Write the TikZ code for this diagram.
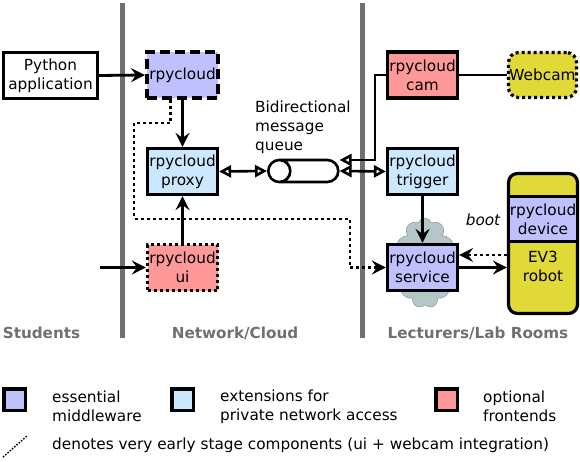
\documentclass[tikz,border=0pt]{standalone}
\usepackage{fontspec}
\setmainfont{DejaVu Sans}
\usetikzlibrary{positioning,calc,arrows.meta,shapes.geometric,shapes.symbols}
\pgfdeclarelayer{background}
\pgfsetlayers{background,main}
\definecolor{essentialblue}{RGB}{192,192,255}
\definecolor{extensionblue}{RGB}{204,232,255}
\definecolor{optionalred}{RGB}{255,153,153}
\definecolor{robotyellow}{RGB}{225,217,56}
\definecolor{cloudgrey}{RGB}{180,198,200}
\definecolor{zonegrey}{RGB}{112,112,112}
\tikzstyle{element} = [rectangle, draw=black, line width=3.2pt, minimum width=70pt, minimum height=46pt, inner sep=1pt, align=center]
\tikzstyle{early} = [dash pattern=on 3pt off 3pt]
\tikzstyle{arrow} = [line width=2.8pt, -{Stealth[length=14pt,width=14pt,inset=5pt]}]
\tikzstyle{queuearrow} = [line width=2.6pt, {Triangle[open,length=12pt,width=12pt]}-{Triangle[open,length=12pt,width=12pt]}]
\tikzstyle{zone} = [line width=5pt, draw=zonegrey]
\tikzstyle{zonelabel} = [font=\fontsize{15.2}{19}\selectfont\bfseries, text=zonegrey]
\tikzstyle{legendbox} = [rectangle, draw=black, line width=3.5pt, minimum width=21.5pt, minimum height=21.5pt, inner sep=0pt]
\tikzstyle{legendtext} = [anchor=west, inner sep=0pt, align=left]

\begin{document}
\begin{tikzpicture}[x=1pt, y=-1pt, font=\fontsize{15.3}{19}\selectfont]
        \useasboundingbox (0,0) rectangle (580,462);
        % Zones ------------------------------------------------------------------------------------
        \draw[zone] (122.5,3) -- (122.5,338);
        \draw[zone] (362.5,3) -- (362.5,338);
        \node[zonelabel](students) at (41.5,333){Students};
        \node[zonelabel](network) at (235,333){Network/Cloud};
        \node[zonelabel](lecturers) at (478,333){Lecturers/Lab Rooms};
        % Students ---------------------------------------------------------------------------------
        \node[element, minimum width=94pt](python) at (50.5,75.5){Python\\application};
        \coordinate (ui_in) at (100,267.5);
        % Network/Cloud ----------------------------------------------------------------------------
        \node[element, line width=4pt, minimum width=71pt, dash pattern=on 10pt off 5pt, fill=essentialblue](rpc) at (182.5,75){rpycloud};
        \node[element, fill=extensionblue](proxy) at (182.5,171.5){rpycloud\\proxy};
        \node[element, early, fill=optionalred](ui) at (182.5,267.5){rpycloud\\ui};
        \node[cylinder, shape border rotate=180, aspect=1, draw=black, line width=2.6pt, fill=white, minimum height=70pt, minimum width=22pt, inner xsep=0pt, inner ysep=11pt, anchor=west](queue) at (267,171){};
        \node[legendtext](queue_label) at (255,127){Bidirectional\\message\\queue};
        % Lecturers/Lab Rooms ----------------------------------------------------------------------
        \node[element, fill=optionalred](cam) at (422.5,75){rpycloud\\cam};
        \node[element, early, rounded corners=10pt, minimum width=68pt, minimum height=45pt, fill=robotyellow](webcam) at (542.5,75){Webcam};
        \node[element, fill=extensionblue](trigger) at (422.5,171.5){rpycloud\\trigger};
        \begin{pgfonlayer}{background}
            \node[cloud, cloud puffs=11, aspect=0.7, fill=cloudgrey, draw=cloudgrey!70!black, minimum width=62pt, minimum height=90pt](cloud) at (425,263){};
            \node[element, rounded corners=9pt, minimum width=69pt, minimum height=140pt, fill=robotyellow](robot) at (543,243.5){};
        \end{pgfonlayer}
        \node[element, fill=essentialblue](service) at (422.5,267.5){rpycloud\\service};
        \node[element, minimum width=69pt, minimum height=45pt, fill=essentialblue](device) at (543,219){rpycloud\\device};
        \node[inner sep=0pt, align=center](ev3) at (543,266.5){EV3\\robot};
        \node[font=\fontsize{15.3}{19}\selectfont\itshape](boot) at (483,220){boot};
        % Arrows -----------------------------------------------------------------------------------
        \draw[arrow] (python.east) -- (rpc.west);
        \draw[arrow] (ui_in) -- (ui.west);
        \draw[arrow] (rpc.south) -- (proxy.north);
        \draw[arrow] (ui.north) -- (proxy.south);
        \draw[queuearrow] (proxy.east) -- (queue.west);
        \draw[queuearrow] (queue.east) -- (trigger.west);
        \draw[line width=2.6pt, -{Triangle[open,length=12pt,width=12pt]}] (cam.west) -- ++(-11,0) |- ([yshift=11pt]queue.east);
        \draw[line width=2.8pt] (cam.east) -- (webcam.west);
        \draw[arrow] (trigger.south) -- (service.north);
        \draw[arrow, early] ([xshift=-12pt]rpc.south) -- ++(0,23) -| (134,219) -| ($(service.west)+(-36,0)$) -- (service.west);
        \draw[arrow, early] ([yshift=12.5pt]service.east -| robot.west) -- ([yshift=12.5pt]service.east);
        \draw[arrow] (service.east) -- (service.east -| robot.west);
        % Legend -----------------------------------------------------------------------------------
        \node[legendbox, fill=essentialblue](legend_essential) at (14.5,399.5){};
        \node[legendtext](legend_essential_text) at (52,406.5){essential\\middleware};
        \node[legendbox, fill=extensionblue](legend_extension) at (182.5,399.5){};
        \node[legendtext](legend_extension_text) at (220,406.5){extensions for\\private network access};
        \node[legendbox, fill=optionalred](legend_optional) at (446.5,399.5){};
        \node[legendtext](legend_optional_text) at (483,406.5){optional\\frontends};
        \coordinate (legend_early_start) at (3,457);
        \coordinate (legend_early_end) at (27,436);
        \draw[line width=1.5pt, dash pattern=on 1.5pt off 1.5pt] (legend_early_start) -- (legend_early_end);
        \node[legendtext](legend_early_text) at (52,445){denotes very early stage components (ui + webcam integration)};
\end{tikzpicture}
\end{document}
